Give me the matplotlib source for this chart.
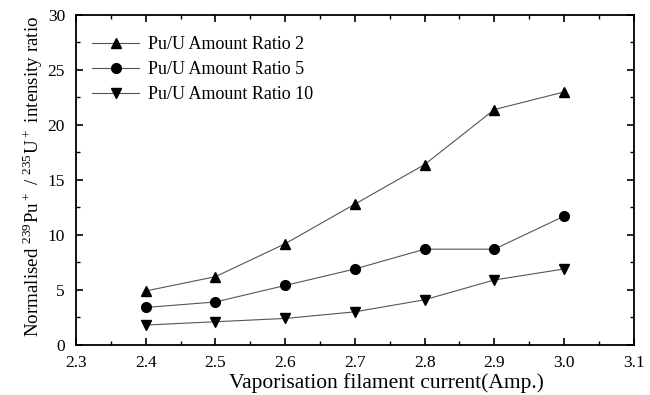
import numpy as np
import matplotlib
matplotlib.use('Agg')
import matplotlib.pyplot as plt
from matplotlib.ticker import MultipleLocator

plt.rcParams['font.family'] = ['Liberation Serif', 'DejaVu Serif']
plt.rcParams['mathtext.fontset'] = 'custom'
plt.rcParams['mathtext.rm'] = 'Liberation Serif'

current = [2.4, 2.5, 2.6, 2.7, 2.8, 2.9, 3.0]
ratio2 = [4.9, 6.2, 9.2, 12.8, 16.4, 21.4, 23.0]
ratio5 = [3.4, 3.9, 5.4, 6.9, 8.7, 8.7, 11.7]
ratio10 = [1.8, 2.1, 2.4, 3.0, 4.1, 5.9, 6.9]
labels = ['Pu/U Amount Ratio 2', 'Pu/U Amount Ratio 5', 'Pu/U Amount Ratio 10']

fig = plt.figure(figsize=(6.5, 3.95), dpi=100)
ax = fig.add_axes([0.117, 0.127, 0.858, 0.835])

ax.plot(current, ratio2, '-^', color='#555555', lw=0.8, mfc='k', mec='k', ms=7, label=labels[0])
ax.plot(current, ratio5, '-o', color='#555555', lw=0.8, mfc='k', mec='k', ms=7, label=labels[1])
ax.plot(current, ratio10, '-v', color='#555555', lw=0.8, mfc='k', mec='k', ms=7, label=labels[2])

ax.set_xlim(2.3, 3.1)
ax.set_ylim(0, 30)
ax.xaxis.set_minor_locator(MultipleLocator(0.05))
ax.yaxis.set_major_locator(MultipleLocator(5))
ax.yaxis.set_minor_locator(MultipleLocator(2.5))
ax.set_xticks(np.arange(2.3, 3.11, 0.1))
ax.set_xticklabels(['2.3', '2.4', '2.5', '2.6', '2.7', '2.8', '2.9', '3.0', '3.1'])
ax.tick_params(which='both', direction='in', top=True, right=True, labelsize=12.5)
ax.tick_params(axis='x', pad=7)
ax.tick_params(axis='y', pad=8)
ax.tick_params(which='major', length=5, width=1.2)
ax.tick_params(which='minor', length=3, width=1)
for s in ax.spines.values():
    s.set_linewidth(1.3)

ax.set_xlabel('Vaporisation filament current(Amp.)', fontsize=15.5, labelpad=1)
ax.xaxis.set_label_coords(0.557, -0.085)
ax.set_ylabel(r'Normalised $^{239}$Pu$^+$ / $^{235}$U$^+$ intensity ratio', fontsize=13.7)
ax.yaxis.set_label_coords(-0.056, 0.51)

ax.legend(loc='upper left', bbox_to_anchor=(0.0, 0.985), frameon=False, fontsize=13,
          handlelength=2.6, borderaxespad=0.5, labelspacing=0.45, handletextpad=0.5)

fig.savefig('out.png', dpi=100)
